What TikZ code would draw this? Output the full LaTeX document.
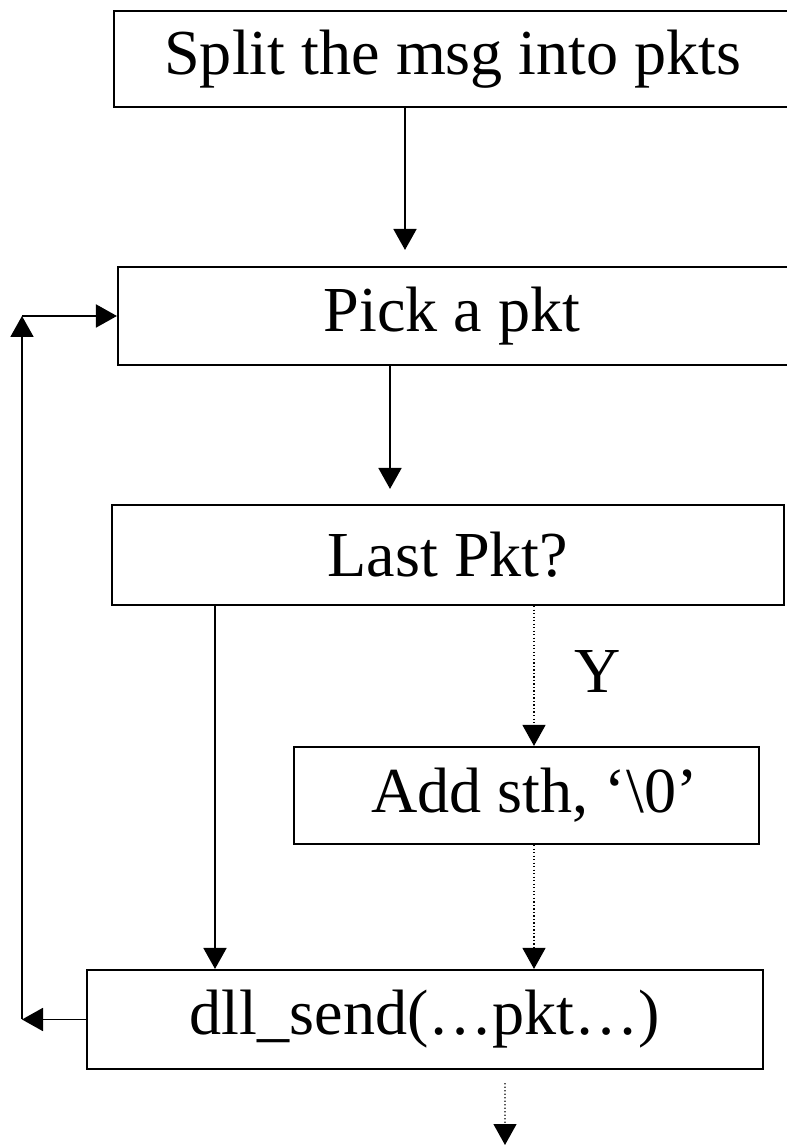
\documentclass[tikz,border=0pt]{standalone}
\usepackage{fontspec}
\setmainfont{Liberation Serif}
\usetikzlibrary{arrows.meta, positioning}

\begin{document}
\begin{tikzpicture}[
				stepbox/.style={draw, line width=1.2pt, inner sep=0pt,
					font=\fontsize{36.5}{43}\selectfont, text centered},
				solid line/.style={line width=1.1pt},
				dot line/.style={line width=0.7pt, dash pattern=on 0.7pt off 1.3pt},
				>={Triangle[length=0.42cm, width=0.46cm]}
				]
				\useasboundingbox (0,0) rectangle (15.74,22.94);
				
				\node[stepbox, minimum width=13.80cm, minimum height=1.92cm] (split) at (9.18,21.76) {Split the msg into pkts\hspace*{0.24cm}};
				\node[stepbox, minimum width=13.80cm, minimum height=1.96cm] (pick)  at (9.26,16.62) {Pick a pkt\hspace*{0.44cm}};
				\node[stepbox, minimum width=13.44cm, minimum height=2.00cm] (last)  at (8.96,11.84) {Last Pkt?};
				\node[stepbox, minimum width=9.30cm,  minimum height=1.94cm] (add)   at (10.53,7.03) {\ Add sth, `\textbackslash0'};
				\node[stepbox, minimum width=13.52cm, minimum height=1.98cm] (send)  at (8.50,2.55)  {dll\_send(…pkt…)};
				\node[font=\fontsize{36.5}{43}\selectfont] (yes) at (11.96,9.50) {Y};
				
				\coordinate (lb) at (0.44,2.55);
				\coordinate (lt) at (0.44,16.62);
				\coordinate (out) at (10.10,0.04);
				
				\draw[->, solid line, shorten >=0.32cm] ([xshift=-1.08cm]split.south) -- ([xshift=-1.08cm]split.south |- pick.north);
				\draw[->, solid line, shorten >=0.30cm] ([xshift=-1.46cm]pick.south) -- ([xshift=-1.46cm]pick.south |- last.north);
				\draw[->, solid line] ([xshift=-4.66cm]last.south) -- ([xshift=-4.66cm]last.south |- send.north);
				\draw[->, dot line] ([xshift=1.72cm]last.south) -- ([xshift=1.72cm]last.south |- add.north);
				\draw[->, dot line] ([xshift=1.72cm]last.south |- add.south) -- ([xshift=1.72cm]last.south |- send.north);
				\draw[->, dot line] ([xshift=1.6cm, yshift=-0.26cm]send.south) -- (out);
				
				\draw[->, solid line] (send.west) -- (lb);
				\draw[->, solid line] (lb) -- (lt);
				\draw[->, solid line] (lt) -- (pick.west);
			\end{tikzpicture}
\end{document}
